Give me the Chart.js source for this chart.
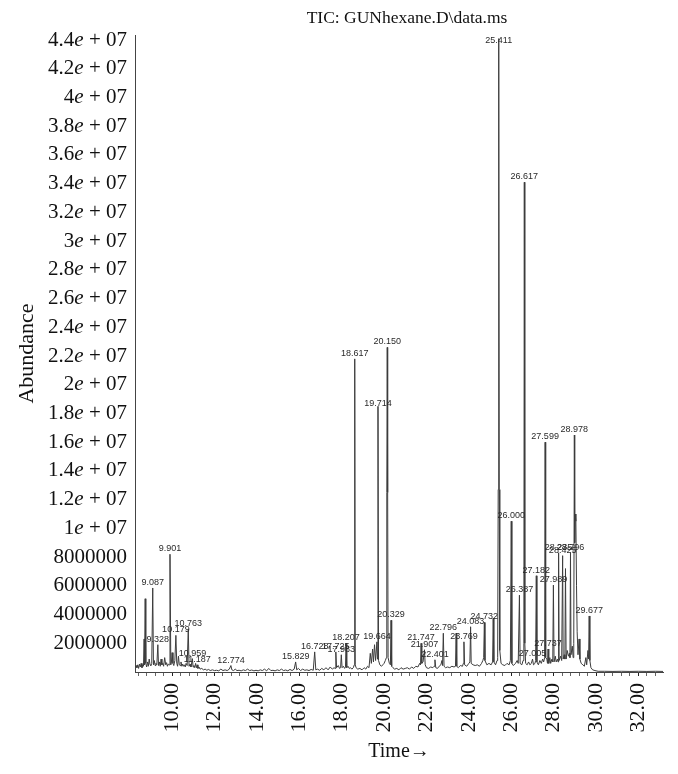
<!DOCTYPE html>
<html><head><meta charset="utf-8">
<script src="https://cdn.jsdelivr.net/npm/chart.js@4.4.1/dist/chart.umd.min.js"></script>
<style>html,body{margin:0;padding:0;background:#fff}canvas{display:block}</style>
</head><body>
<canvas id="c" width="678" height="774"></canvas>
<script>
const chartTitle = 'TIC: GUNhexane.D\\data.ms';
const xAxisTitle = 'Time\u2192';
const yAxisTitle = 'Abundance';
const xMajorLabels = ['10.00','12.00','14.00','16.00','18.00','20.00','22.00','24.00','26.00','28.00','30.00','32.00'];
const yTickValues = [2000000,4000000,6000000,8000000,10000000,12000000,14000000,16000000,18000000,20000000,22000000,24000000,26000000,28000000,30000000,32000000,34000000,36000000,38000000,40000000,42000000,44000000];

// retention time (min)
const times = [
8.26,8.30,8.34,8.38,8.42,8.46,8.50,8.54,8.58,8.62,8.65,8.68,8.70,8.73,8.76,8.80,8.84,8.88,8.92,8.96,9.00,
9.04,9.087,9.12,9.16,9.20,9.24,9.28,9.328,9.36,9.40,9.44,9.48,9.52,9.56,9.60,9.65,9.70,9.74,9.78,9.82,
9.87,9.901,9.94,9.97,10.00,10.04,10.08,10.13,10.179,10.22,10.26,10.30,10.34,10.38,10.42,10.46,10.50,10.54,10.58,10.62,
10.66,10.71,10.763,10.80,10.85,10.89,10.959,10.99,11.03,11.07,11.11,11.15,11.187,11.22,11.27,11.32,11.40,11.48,11.56,11.64,
11.72,11.80,11.90,12.00,12.10,12.20,12.30,12.40,12.50,12.60,12.70,12.774,12.82,12.90,12.98,13.06,13.16,13.26,13.36,13.46,
13.56,13.66,13.76,13.86,13.96,14.06,14.16,14.26,14.36,14.46,14.56,14.66,14.76,14.86,14.96,15.06,15.16,15.26,15.36,15.46,
15.56,15.66,15.76,15.829,15.88,15.96,16.06,16.16,16.26,16.36,16.46,16.56,16.66,16.728,16.78,16.86,16.96,17.06,17.16,17.26,
17.36,17.46,17.56,17.64,17.69,17.725,17.76,17.84,17.90,17.95,17.983,18.02,18.08,18.14,18.18,18.207,18.24,18.30,18.36,18.42,
18.48,18.55,18.595,18.617,18.64,18.68,18.76,18.86,18.96,19.06,19.14,19.22,19.29,19.35,19.40,19.46,19.50,19.55,19.60,19.664,
19.69,19.714,19.74,19.80,19.88,19.94,20.00,20.06,20.11,20.13,20.150,20.17,20.19,20.25,20.30,20.329,20.36,20.42,20.50,20.60,
20.70,20.80,20.90,21.00,21.10,21.20,21.30,21.40,21.50,21.60,21.68,21.72,21.747,21.78,21.84,21.907,21.94,22.00,22.10,22.20,
22.30,22.36,22.401,22.44,22.52,22.60,22.68,22.73,22.76,22.796,22.83,22.90,23.00,23.10,23.20,23.30,23.37,23.40,23.43,23.50,
23.60,23.70,23.74,23.769,23.80,23.90,24.00,24.05,24.083,24.11,24.20,24.30,24.40,24.50,24.60,24.66,24.70,24.732,24.76,24.85,
24.95,25.05,25.12,25.15,25.18,25.26,25.33,25.36,25.385,25.411,25.435,25.46,25.52,25.60,25.70,25.80,25.90,25.96,26.000,26.03,
26.10,26.20,26.28,26.33,26.387,26.42,26.50,26.56,26.595,26.617,26.64,26.68,26.75,26.82,26.88,26.95,27.005,27.05,27.12,27.15,
27.182,27.21,27.28,27.35,27.42,27.48,27.53,27.575,27.599,27.625,27.68,27.71,27.737,27.77,27.82,27.86,27.92,27.96,27.989,28.02,
28.08,28.12,28.18,28.21,28.235,28.26,28.33,28.38,28.425,28.45,28.50,28.53,28.56,28.59,28.64,28.70,28.75,28.77,28.796,28.82,
28.88,28.92,28.95,28.978,28.995,29.02,29.05,29.08,29.11,29.15,29.20,29.24,29.30,29.38,29.45,29.52,29.56,29.62,29.65,29.677,
29.71,29.76,29.84,29.95,30.10,30.40,30.80,31.20,31.60,32.00,32.40,32.80,33.16
];
// abundance, in millions of counts
const abundanceMillions = [
0.35,0.45,0.30,0.50,0.25,0.55,0.35,0.60,0.30,0.50,0.40,2.30,0.50,5.10,0.60,0.35,0.70,0.40,0.90,0.50,0.45,
0.60,5.85,0.50,0.80,0.45,0.60,0.50,1.90,0.45,0.70,0.40,0.90,0.50,0.60,0.40,1.00,0.50,0.65,0.40,0.55,
0.50,8.20,0.50,0.70,1.35,0.60,0.45,0.80,2.55,0.60,0.40,1.10,0.50,0.45,0.70,0.40,0.55,0.40,0.50,0.35,
0.60,0.45,3.00,0.40,0.55,0.35,0.93,0.35,0.45,0.30,0.60,0.30,0.50,0.25,0.35,0.20,0.25,0.15,0.20,0.12,
0.18,0.10,0.15,0.10,0.12,0.08,0.20,0.10,0.15,0.10,0.20,0.45,0.15,0.10,0.20,0.10,0.12,0.08,0.15,0.10,
0.20,0.10,0.14,0.08,0.12,0.08,0.15,0.10,0.20,0.08,0.25,0.10,0.12,0.08,0.15,0.10,0.20,0.10,0.14,0.08,
0.18,0.10,0.20,0.70,0.15,0.25,0.10,0.20,0.12,0.15,0.10,0.18,0.12,1.40,0.15,0.20,0.12,0.25,0.15,0.30,
0.15,0.35,0.20,0.30,0.25,1.40,0.30,0.45,0.25,0.30,1.20,0.30,0.40,0.25,0.35,2.00,0.30,0.40,0.25,0.30,
0.20,0.30,0.50,21.80,0.50,0.30,0.20,0.25,0.15,0.30,0.20,0.40,0.30,1.30,0.60,1.60,0.70,1.90,0.80,2.10,
0.90,18.50,0.80,0.50,0.40,0.50,0.60,0.80,1.00,12.50,22.60,12.50,1.00,0.60,0.50,3.60,0.40,0.30,0.20,0.25,
0.15,0.30,0.20,0.25,0.30,0.20,0.35,0.25,0.40,0.35,0.60,0.50,2.00,0.60,0.70,1.55,0.50,0.30,0.25,0.35,
0.30,0.40,0.85,0.30,0.25,0.40,0.50,0.80,0.45,2.70,0.40,0.30,0.35,0.30,0.40,0.35,0.40,2.70,0.40,0.30,
0.45,0.40,0.60,2.10,0.50,0.40,0.60,0.70,3.15,0.60,0.50,0.45,0.50,0.40,0.60,0.80,1.00,3.45,0.80,0.50,
0.60,0.50,0.70,3.75,0.70,0.50,0.80,1.00,12.70,44.10,12.70,1.50,0.60,0.50,0.45,0.60,0.50,0.80,10.50,0.60,
0.45,0.60,0.80,0.60,5.35,0.60,0.50,0.80,2.00,34.10,2.00,0.60,0.50,0.70,0.50,0.60,0.90,0.50,0.60,0.80,
6.70,0.70,0.50,0.80,0.60,0.90,0.70,1.00,16.00,1.00,0.90,0.60,1.60,0.60,1.00,0.60,0.90,0.70,6.05,0.70,
1.10,0.70,0.90,0.70,8.30,0.80,1.10,0.80,8.10,0.90,1.20,0.90,7.20,0.90,1.50,1.10,1.30,1.00,8.30,1.20,
1.80,1.00,2.00,16.50,9.00,11.00,10.50,6.00,2.80,1.20,2.30,0.90,0.60,0.50,0.40,1.00,0.50,1.50,0.90,3.90,
0.80,0.30,0.15,0.10,0.05,0.05,0.04,0.05,0.04,0.05,0.04,0.05,0.04
];

// annotated peaks
const peakLabels = ['9.087','9.328','9.901','10.179','10.763','10.959','11.187','12.774','15.829','16.728','17.725','17.983','18.207','18.617','19.664','19.714','20.150','20.329','21.747','21.907','22.401','22.796','23.769','24.083','24.732','25.411','26.000','26.387','26.617','27.005','27.182','27.599','27.737','27.989','28.235','28.425','28.796','28.978','29.677'];
const peakTimes = [9.087,9.328,9.901,10.179,10.763,10.959,11.187,12.774,15.829,16.728,17.725,17.983,18.207,18.617,19.664,19.714,20.150,20.329,21.747,21.907,22.401,22.796,23.769,24.083,24.732,25.411,26.000,26.387,26.617,27.005,27.182,27.599,27.737,27.989,28.235,28.425,28.796,28.978,29.677];
const peakLabelHeightsMillions = [5.85,1.90,8.20,2.55,3.00,0.93,0.50,0.45,0.70,1.40,1.40,1.20,2.00,21.80,2.10,18.30,22.60,3.60,2.00,1.55,0.85,2.70,2.10,3.15,3.45,43.60,10.50,5.35,34.10,0.90,6.70,16.00,1.60,6.05,8.30,8.10,8.30,16.50,3.90];

const SERIF = '"Liberation Serif", "Times New Roman", serif';

function drawYTickLabel(ctx, value, right, y) {
  const normal = '21px ' + SERIF;
  const italic = 'italic 21px ' + SERIF;
  let parts;
  if (value >= 10000000) {
    const mant = String(parseFloat((value / 10000000).toFixed(1)));
    parts = [[mant, normal], ['e', italic], [' + 07', normal]];
  } else {
    parts = [[String(value), normal]];
  }
  let total = 0;
  parts.forEach(p => { ctx.font = p[1]; total += ctx.measureText(p[0]).width; });
  let x = right - total;
  ctx.textAlign = 'left';
  ctx.textBaseline = 'middle';
  parts.forEach(p => { ctx.font = p[1]; ctx.fillText(p[0], x, y); x += ctx.measureText(p[0]).width; });
}

const overlay = {
  id: 'overlay',
  afterDraw(chart) {
    const {ctx, chartArea, scales} = chart;
    const xs = scales.x, ys = scales.y;
    ctx.save();
    ctx.fillStyle = '#111';
    ctx.font = '17.5px ' + SERIF;
    ctx.textAlign = 'center';
    ctx.textBaseline = 'middle';
    ctx.fillText(chartTitle, (chartArea.left + chartArea.right) / 2 + 8, 18);
    ys.ticks.forEach(t => {
      drawYTickLabel(ctx, t.value, chartArea.left - 8, ys.getPixelForValue(t.value));
    });
    ctx.fillStyle = '#2a2a2a';
    ctx.font = '9px "Liberation Sans", Arial, sans-serif';
    ctx.textAlign = 'center';
    ctx.textBaseline = 'bottom';
    peakTimes.forEach((t, i) => {
      ctx.fillText(peakLabels[i], xs.getPixelForValue(t), ys.getPixelForValue(peakLabelHeightsMillions[i] * 1000000) - 1);
    });
    ctx.restore();
  }
};

new Chart(document.getElementById('c'), {
  type: 'line',
  data: {
    datasets: [{
      data: times.map((t, i) => ({x: t, y: abundanceMillions[i] * 1000000})),
      borderColor: '#3c3c3c',
      borderWidth: 1,
      pointRadius: 0,
      tension: 0,
      fill: false
    }]
  },
  options: {
    responsive: false,
    animation: false,
    devicePixelRatio: 1,
    layout: {padding: {top: 35, right: 15, left: 0, bottom: 0}},
    plugins: {legend: {display: false}, tooltip: {enabled: false}, title: {display: false}},
    scales: {
      x: {
        type: 'linear',
        min: 8.25,
        max: 33.16,
        border: {display: true, color: '#444', width: 1},
        grid: {
          display: true, drawOnChartArea: false, drawTicks: true, tickLength: 4,
          tickColor: (c) => (c.tick && xMajorLabels.includes(Number(c.tick.value).toFixed(2))) ? '#222' : '#666'
        },
        ticks: {
          stepSize: 0.4, autoSkip: false, minRotation: 90, maxRotation: 90, padding: 7, includeBounds: false,
          font: {family: SERIF, size: 22}, color: '#111',
          callback: (v) => { const s = Number(v).toFixed(2); return xMajorLabels.includes(s) ? s : ''; }
        },
        title: {display: true, text: xAxisTitle, font: {family: SERIF, size: 20}, color: '#111', padding: {top: 4, bottom: 10}},
        afterFit: (s) => { s.height = 102; s.paddingLeft = 0; s.paddingRight = 0; }
      },
      y: {
        type: 'linear',
        min: 0,
        max: 44350000,
        border: {display: true, color: '#444', width: 1},
        grid: {display: true, drawOnChartArea: false, drawTicks: false},
        ticks: {display: false},
        afterBuildTicks: (s) => { s.ticks = yTickValues.map(v => ({value: v})); },
        title: {display: true, text: yAxisTitle, font: {family: SERIF, size: 22}, color: '#111', padding: {top: 14, bottom: 4}},
        afterFit: (s) => { s.width = 135; s.paddingTop = 0; s.paddingBottom = 0; }
      }
    }
  },
  plugins: [overlay]
});
</script>
</body></html>
